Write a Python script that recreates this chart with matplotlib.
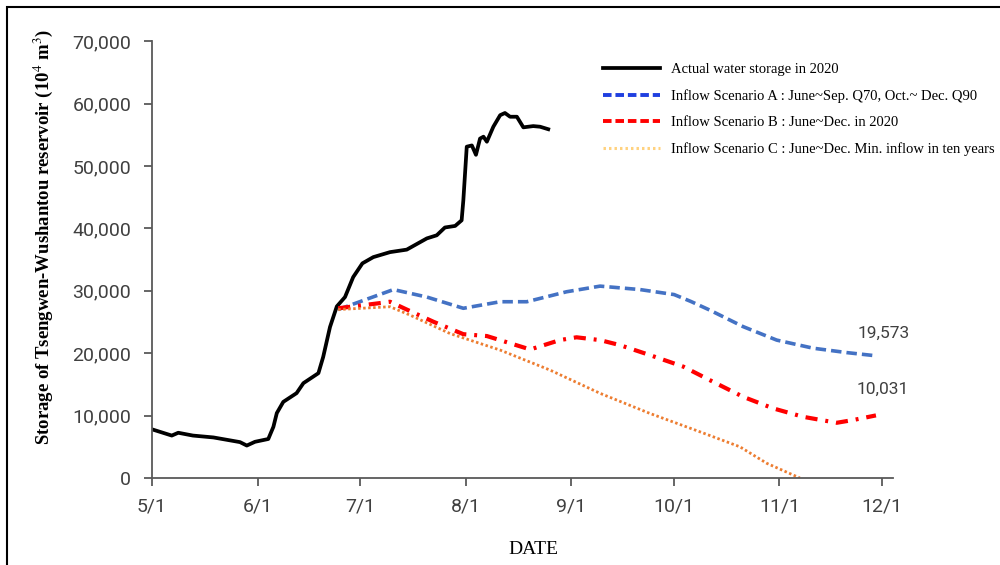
import matplotlib
matplotlib.use("Agg")
import matplotlib.pyplot as plt
from matplotlib.lines import Line2D
from matplotlib.patches import Rectangle

# days counted from 5/1 (2020)
month_days = [0, 31, 61, 92, 123, 153, 184, 214]
month_labels = ['5/1', '6/1', '7/1', '8/1', '9/1', '10/1', '11/1', '12/1']

actual_day = [0, 5.8, 7.7, 12, 18, 25.8, 27.8, 30.2, 34.1, 35.6, 36.6, 38.5, 42.4, 44.4,
              48.8, 50.2, 52.2, 54.2, 56.6, 59.0, 61.7, 64.9, 69.8, 74.7, 80.6, 83.5,
              85.9, 88.9, 90.8, 91.3, 92.3, 93.8, 95.0, 96.2, 97.2, 98.2, 100.1, 102.1,
              103.5, 105.0, 107.0, 108.9, 111.8, 113.8, 116.2]
actual_val = [7800, 6800, 7250, 6800, 6500, 5750, 5200, 5800, 6250, 8200, 10400, 12200,
              13600, 15200, 16800, 19400, 24200, 27500, 29000, 32200, 34400, 35400, 36200,
              36600, 38400, 38900, 40150, 40400, 41300, 44500, 53100, 53300, 51800, 54400,
              54700, 53900, 56300, 58150, 58500, 57900, 57900, 56200, 56400, 56300, 55900]

a_day = [54.6, 70.8, 80.6, 91.3, 102.1, 109.9, 121.6, 131.4, 143.1, 153.1, 158.0,
         163.6, 173.4, 183.2, 193.9, 203.7, 212.5]
a_val = [27000, 30200, 29000, 27200, 28250, 28250, 29850, 30750, 30200, 29400, 28300,
         26900, 24250, 22100, 20800, 20100, 19573]

b_day = [54.6, 66.4, 69.8, 74.7, 82.5, 91.3, 98.2, 110.9, 119.6, 124.5, 131.4, 137.2,
         146.0, 155.8, 164.6, 173.4, 182.2, 191.0, 200.8, 205.7, 212.3]
b_val = [27200, 28000, 28250, 27000, 25050, 23050, 22750, 20600, 22100, 22550, 22100,
         21300, 19700, 17850, 15400, 13000, 11150, 9800, 8850, 9300, 10031]

c_day = [54.6, 69.8, 75.7, 87.4, 102.1, 116.7, 131.4, 146.0, 160.7, 172.4, 180.3, 190.0]
c_val = [27000, 27450, 26100, 23150, 20500, 17300, 13570, 10350, 7400, 5000, 2350, 0]

legend_labels = ['Actual water storage in 2020',
                 'Inflow Scenario A : June~Sep. Q70, Oct.~ Dec. Q90',
                 'Inflow Scenario B : June~Dec. in 2020',
                 'Inflow Scenario C : June~Dec. Min. inflow in ten years']

plt.rcParams['mathtext.fontset'] = 'stix'
tick_font = ['Roboto', 'DejaVu Sans']
serif_font = ['Liberation Serif', 'DejaVu Serif']
gray = '#404040'

fig = plt.figure(figsize=(10, 5.65), dpi=100)
ax = fig.add_axes([0.152, 0.154, 0.741, 0.773])

ax.plot(actual_day, actual_val, color='black', lw=2.7, solid_joinstyle='round')
ax.plot(a_day, a_val, color='#4472C4', lw=2.6, dashes=(2.9, 1.4))
ax.plot(b_day, b_val, color='#FF0000', lw=3.0, dashes=(2.9, 1.9, 0.7, 1.9))
ax.plot(c_day, c_val, color='#ED7D31', lw=2.0, dashes=(0.9, 0.9))

ax.text(a_day[-1] + 2, a_val[-1] + 2400, '19,573', fontsize=12.5, family=tick_font,
        color=gray, ha='center', va='bottom')
ax.text(b_day[-1] + 2, b_val[-1] + 2900, '10,031', fontsize=12.5, family=tick_font,
        color=gray, ha='center', va='bottom')

ax.set_xlim(0, 217.3)
ax.set_ylim(0, 70000)
ax.set_xticks(month_days)
ax.set_xticklabels(month_labels)
ax.set_yticks(range(0, 70001, 10000))
ax.set_yticklabels(['0' if v == 0 else f'{v:,}' for v in range(0, 70001, 10000)])
for lab in ax.get_xticklabels() + ax.get_yticklabels():
    lab.set_family(tick_font)
    lab.set_fontsize(14)
    lab.set_color(gray)
ax.tick_params(axis='both', length=6, width=1.3, color='#595959')
ax.tick_params(axis='x', pad=8)
ax.tick_params(axis='y', pad=9)

for s in ['top', 'right']:
    ax.spines[s].set_visible(False)
for s in ['left', 'bottom']:
    ax.spines[s].set_color('#595959')
    ax.spines[s].set_linewidth(1.3)

ax.set_xlabel('DATE', family=serif_font, fontsize=14)
ax.xaxis.set_label_coords(0.515, -0.145)
ax.set_ylabel('Storage of Tsengwen-Wushantou reservoir (10$^4$ m$^3$)',
              family=serif_font, fontsize=13.5, fontweight='bold')
ax.yaxis.set_label_coords(-0.131, 0.551)

handles = [Line2D([], [], color='black', lw=2.7),
           Line2D([], [], color='#1F3FE0', lw=2.8, dashes=(2.2, 1.0)),
           Line2D([], [], color='#FF0000', lw=2.8, dashes=(2.2, 1.0)),
           Line2D([], [], color='#FFD27F', lw=2.2, dashes=(0.8, 1.0))]
leg = fig.legend(handles, legend_labels, loc='upper left', bbox_to_anchor=(0.603, 0.888),
                 frameon=False, borderpad=0, borderaxespad=0, handlelength=3.9,
                 handletextpad=0.75, labelspacing=0.88,
                 prop={'family': serif_font, 'size': 10.5})

fig.patches.append(Rectangle((0.007, -0.05), 1.1, 1.038, transform=fig.transFigure,
                             fill=False, edgecolor='black', lw=1.5, clip_on=False))

fig.savefig('out.png', dpi=100)
